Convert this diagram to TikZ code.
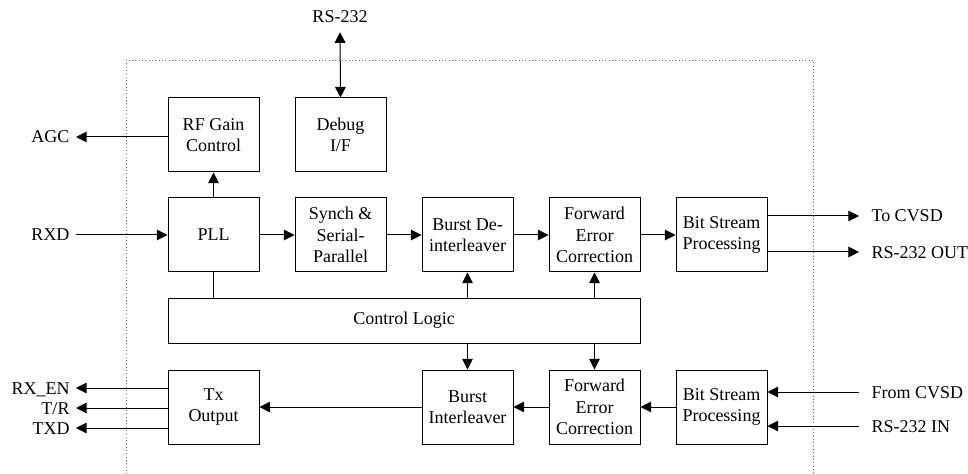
\documentclass[tikz,border=0pt]{standalone}
\usepackage{fontspec}
\setmainfont{Liberation Serif}
\usetikzlibrary{arrows.meta}

\tikzset{every picture/.style={line width=0.75pt}}
\tikzset{
	blk/.style={draw, align=center, minimum width=68.25pt, minimum height=55.5pt, inner sep=1pt, font=\fontsize{13.5}{16}\selectfont},
	lbl/.style={inner sep=1.5pt, text height=10pt, text depth=1pt, font=\fontsize{13.5}{16}\selectfont},
	tip/.tip={Triangle[length=8pt,width=8pt]},
	arr/.style={-tip},
	frame/.style={dotted, draw=black!60, line width=0.5pt}}

\begin{document}
\begin{tikzpicture}[x=0.75pt,y=0.75pt,yscale=-1,xscale=1]
	\useasboundingbox (0,0) rectangle (968,474);

	%Shape: Dotted frame
	\draw [frame] (126,474) -- (126,60) -- (813,60) -- (813,474) ;

	%Shape: Rectangles, upper row
	\node [blk] (rfgain) at (213.5,135) {RF Gain\\Control};
	\node [blk] (debug) at (340.5,135) {Debug\\I/F};
	%Shape: Rectangles, receive row
	\node [blk] (pll) at (213.5,235) {PLL};
	\node [blk] (synch) at (340.5,235) {Synch \&\\Serial-\\Parallel};
	\node [blk] (bdeint) at (467.5,235) {Burst De-\\interleaver};
	\node [blk] (fecrx) at (594.5,235) {Forward\\Error\\Correction};
	\node [blk] (bsprx) at (721.5,235) {Bit Stream\\Processing};
	%Shape: Control Logic
	\node [blk, minimum width=354pt, minimum height=33.75pt] (ctrl) at (404,320.5) {Control Logic};
	%Shape: Rectangles, transmit row
	\node [blk] (txout) at (213.5,407) {Tx\\Output};
	\node [blk] (bint) at (467.5,407) {Burst\\Interleaver};
	\node [blk] (fectx) at (594.5,407) {Forward\\Error\\Correction};
	\node [blk] (bsptx) at (721.5,407) {Bit Stream\\Processing};

	% Text Node
	\node [lbl] (rs) at (340,17) {RS-232};
	\node [lbl, anchor=east] (agc) at (72,137) {AGC};
	\node [lbl, anchor=east] (rxd) at (72,235) {RXD};
	\node [lbl, anchor=east] (rxen) at (72,388) {RX\_EN};
	\node [lbl, anchor=east] (tr) at (72,408) {T/R};
	\node [lbl, anchor=east] (txd) at (72,428) {TXD};
	\node [lbl, anchor=west] (tocvsd) at (869,216) {To CVSD};
	\node [lbl, anchor=west] (rsout) at (869,252) {RS-232 OUT};
	\node [lbl, anchor=west] (fromcvsd) at (869,392) {From CVSD};
	\node [lbl, anchor=west] (rsin) at (869,426) {RS-232 IN};

	%Straight Lines
	\draw [tip-tip, shorten <=4pt] (rs.south) -- (debug.north) ;
	\draw [arr, shorten >=3pt] (rfgain.west |- agc) -- (agc.east) ;
	\draw [arr, shorten <=3pt] (rxd.east) -- (pll.west |- rxd) ;
	\draw [arr] (pll.north) -- (rfgain.south) ;
	\draw [arr] (pll) -- (synch) ;
	\draw [arr] (synch) -- (bdeint) ;
	\draw [arr] (bdeint) -- (fecrx) ;
	\draw [arr] (fecrx) -- (bsprx) ;
	\draw [arr, shorten >=7.5pt] (bsprx.east |- tocvsd) -- (tocvsd.west) ;
	\draw [arr, shorten >=7.5pt] (bsprx.east |- rsout) -- (rsout.west) ;
	\draw (pll.south) -- (ctrl.north -| pll) ;
	\draw [arr] (ctrl.north -| bdeint) -- (bdeint.south) ;
	\draw [arr] (ctrl.north -| fecrx) -- (fecrx.south) ;
	\draw [arr] (ctrl.south -| bint) -- (bint.north) ;
	\draw [arr] (ctrl.south -| fectx) -- (fectx.north) ;
	\draw [arr, shorten <=7.5pt] (fromcvsd.west) -- (bsptx.east |- fromcvsd) ;
	\draw [arr, shorten <=7.5pt] (rsin.west) -- (bsptx.east |- rsin) ;
	\draw [arr] (bsptx) -- (fectx) ;
	\draw [arr] (fectx) -- (bint) ;
	\draw [arr] (bint) -- (txout) ;
	\draw [arr, shorten >=3pt] (txout.west |- rxen) -- (rxen.east) ;
	\draw [arr, shorten >=3pt] (txout.west |- tr) -- (tr.east) ;
	\draw [arr, shorten >=3pt] (txout.west |- txd) -- (txd.east) ;

\end{tikzpicture}
\end{document}
